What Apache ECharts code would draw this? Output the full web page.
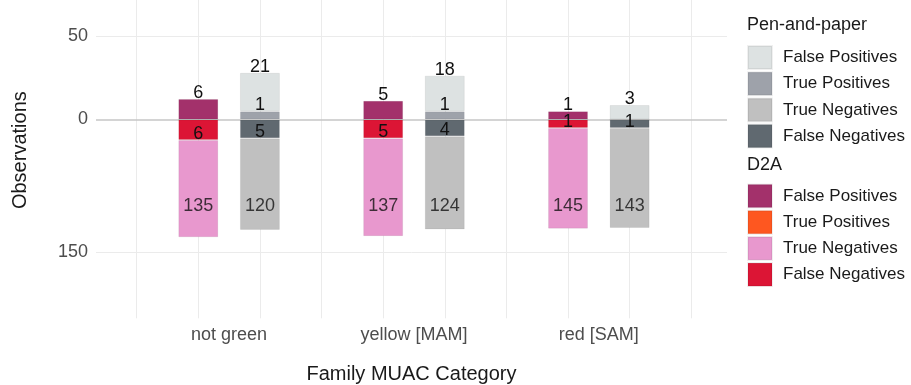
<!DOCTYPE html>
<html>
<head>
<meta charset="utf-8">
<script src="https://cdn.jsdelivr.net/npm/echarts@6/dist/echarts.min.js"></script>
<style>html,body{margin:0;padding:0;background:#fff}#c{width:911px;height:385px}</style>
</head>
<body>
<div id="c"></div>
<script>
// ---- data ----
const categories = ['not green', 'yellow [MAM]', 'red [SAM]'];
const outcomes = ['False Positives', 'True Positives', 'True Negatives', 'False Negatives'];
const d2aFP = [6, 5, 1];
const d2aTP = [0, 0, 0];
const d2aTN = [135, 137, 145];
const d2aFN = [6, 5, 1];
const penFP = [21, 18, 3];
const penTP = [1, 1, 0];
const penTN = [120, 124, 143];
const penFN = [5, 4, 1];
const yTickLabels = ['50', '0', '150'];
const yTickAt = [100, 0, -251];      // raw-unit positions of the y tick labels
const tnLabelAt = -107;              // raw-unit anchor of True Negative labels

// ---- helpers ----
const ss = v => Math.sign(v) * Math.sqrt(Math.abs(v));   // signed sqrt scale
const FONT = '"Liberation Sans", Arial, Helvetica, sans-serif';
const colors = {
  'Pen-and-paper': { 'False Positives': '#dde2e2', 'True Positives': '#9ea2aa', 'True Negatives': '#c0c0c0', 'False Negatives': '#606970' },
  'D2A': { 'False Positives': '#a3316b', 'True Positives': '#fe5720', 'True Negatives': '#e898ce', 'False Negatives': '#dc1535' }
};
const methods = [
  { name: 'D2A', offset: 1, vals: { 'False Positives': d2aFP, 'True Positives': d2aTP, 'True Negatives': d2aTN, 'False Negatives': d2aFN } },
  { name: 'Pen-and-paper', offset: 2, vals: { 'False Positives': penFP, 'True Positives': penTP, 'True Negatives': penTN, 'False Negatives': penFN } }
];
const negative = { 'True Negatives': true, 'False Negatives': true };
const stackOrder = ['True Positives', 'False Positives', 'False Negatives', 'True Negatives'];

const series = [];
methods.forEach(m => {
  stackOrder.forEach(o => {
    const raw = m.vals[o];
    const sign = negative[o] ? -1 : 1;
    let label;
    if (o === 'True Negatives') {
      label = { show: false };
    } else if (negative[o]) {
      label = { show: true, position: 'insideBottom', distance: -3, fontSize: 18, fontFamily: FONT, color: '#111',
        formatter: p => raw[p.dataIndex] > 0 ? String(raw[p.dataIndex]) : '' };
    } else {
      label = { show: true, position: 'top', distance: -3, fontSize: 18, fontFamily: FONT, color: '#111',
        formatter: p => raw[p.dataIndex] > 0 ? String(raw[p.dataIndex]) : '' };
    }
    series.push({
      type: 'bar',
      name: m.name + '|' + o,
      stack: m.name,
      barWidth: 40,
      barGap: '-100%',
      z: 2,
      // value column first so that stacking applies to the y values
      encode: { x: 1, y: 0 },
      itemStyle: { color: colors[m.name][o], borderColor: 'rgba(0,0,0,0.06)', borderWidth: 1 },
      label: label,
      data: raw.map((v, i) => [ss(sign * v), i * 3 + m.offset])
    });
  });
});

// True Negative labels and grid lines
const tnLabelData = [];
methods.forEach(m => {
  m.vals['True Negatives'].forEach((v, i) => tnLabelData.push({ value: [i * 3 + m.offset, ss(tnLabelAt)], raw: v }));
});
const gridX = [];
for (let k = 0; k <= categories.length * 3; k++) gridX.push(k);
const gridLineStyle = { color: '#ebebeb', width: 1, type: 'solid' };
series.push({
  type: 'scatter',
  symbolSize: 0,
  z: 3,
  silent: true,
  label: { show: true, position: 'inside', fontSize: 18, fontFamily: FONT, color: '#111',
    formatter: p => String(p.data.raw) },
  data: tnLabelData,
  markLine: {
    silent: true,
    symbol: 'none',
    z: 1,
    animation: false,
    label: { show: false },
    lineStyle: gridLineStyle,
    data: gridX.map(x => ({ xAxis: x, lineStyle: gridLineStyle }))
      .concat(yTickAt.filter(v => v !== 0).map(v => ({ yAxis: ss(v), lineStyle: gridLineStyle })))
      .concat([{ yAxis: 0, lineStyle: { color: '#c6c6c6', width: 1.5, type: 'solid' } }])
  }
});

const legendCommon = {
  orient: 'vertical',
  left: 747,
  padding: 0,
  icon: 'rect',
  itemWidth: 24,
  itemHeight: 23,
  itemGap: 1.2,
  selectedMode: false,
  formatter: n => n.split('|')[1],
  textStyle: { fontSize: 17, fontFamily: FONT, color: '#1a1a1a', padding: [0, 0, 0, 6] }
};

const chart = echarts.init(document.getElementById('c'), null, { renderer: 'canvas' });
chart.setOption({
  animation: false,
  backgroundColor: '#fff',
  textStyle: { fontFamily: FONT },
  title: [
    { text: 'Pen-and-paper', left: 747, top: 16, padding: 0, textStyle: { fontSize: 18, fontWeight: 'normal', fontFamily: FONT, color: '#1a1a1a' } },
    { text: 'D2A', left: 747, top: 156, padding: 0, textStyle: { fontSize: 18, fontWeight: 'normal', fontFamily: FONT, color: '#1a1a1a' } }
  ],
  legend: [
    Object.assign({}, legendCommon, { top: 45, data: outcomes.map(o => 'Pen-and-paper|' + o) }),
    Object.assign({}, legendCommon, { top: 183.5, data: outcomes.map(o => 'D2A|' + o) })
  ],
  grid: { left: 96, right: 184, top: -18, bottom: 66.7, outerBoundsMode: 'none', containLabel: false },
  xAxis: {
    type: 'value',
    min: -0.66,
    max: 9.58,
    name: 'Family MUAC Category',
    nameLocation: 'middle',
    nameGap: 46,
    nameTextStyle: { fontSize: 20, fontFamily: FONT, color: '#1a1a1a' },
    axisLine: { show: false },
    axisTick: { show: false },
    splitLine: { show: false },
    axisLabel: {
      customValues: categories.map((c, i) => i * 3 + 1.5),
      fontSize: 18, fontFamily: FONT, color: '#4d4d4d', margin: 8,
      formatter: v => { const i = Math.round((v - 1.5) / 3); return categories[i] || ''; }
    }
  },
  yAxis: {
    type: 'value',
    min: -23.75,
    max: 16.43,
    name: 'Observations',
    nameLocation: 'middle',
    nameGap: 66,
    nameRotate: 90,
    nameTextStyle: { fontSize: 20, fontFamily: FONT, color: '#1a1a1a' },
    axisLine: { show: false },
    axisTick: { show: false },
    splitLine: { show: false },
    axisLabel: {
      customValues: yTickAt.map(ss),
      fontSize: 18, fontFamily: FONT, color: '#4d4d4d', margin: 8,
      formatter: v => { const i = yTickAt.findIndex(t => Math.abs(ss(t) - v) < 1e-6); return i >= 0 ? yTickLabels[i] : ''; }
    }
  },
  series: series
});
</script>
</body>
</html>
